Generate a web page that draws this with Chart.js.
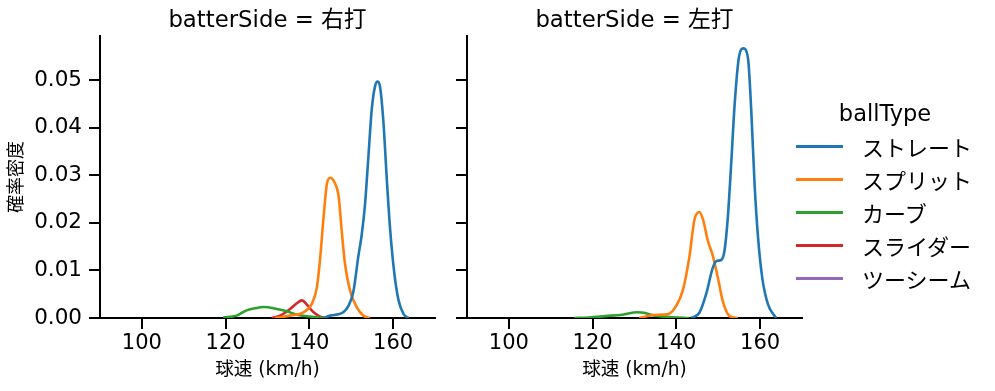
<!DOCTYPE html>
<html lang="ja">
<head>
<meta charset="UTF-8">
<title>球速 KDE</title>
<script src="https://cdn.jsdelivr.net/npm/chart.js@4.4.1/dist/chart.umd.min.js"></script>
<style>
  body { margin: 0; background: #fff; width: 995px; height: 391px; overflow: hidden; position: relative; font-family: "DejaVu Sans", "Noto Sans CJK JP", sans-serif; color: #000; }
  canvas { position: absolute; top: 0; }
  #leftChart { left: 0; }
  #rightChart { left: 455px; }
  .legend-title { position: absolute; left: 785px; top: 99px; width: 200px; line-height: 28px; font-size: 22.5px; text-align: center; }
  .legend-rows { position: absolute; left: 796px; top: 129.5px; }
  .legend-row { height: 33px; display: flex; align-items: center; font-size: 22px; }
  .legend-line { width: 47px; height: 3px; margin-right: 19px; }
</style>
</head>
<body>
<canvas id="leftChart" width="455" height="391"></canvas>
<canvas id="rightChart" width="367" height="391"></canvas>
<div class="legend-title">ballType</div>
<div class="legend-rows" id="legend"></div>

<script>
// axes
const speedTicks = [100, 120, 140, 160];
const densityTicks = [0, 0.01, 0.02, 0.03, 0.04, 0.05];
const speedRange = [90, 170];
const densityMax = 0.0593;

const ballTypes = ['ストレート', 'スプリット', 'カーブ', 'スライダー', 'ツーシーム'];
const ballColors = ['#1f77b4', '#ff7f0e', '#2ca02c', '#d62728', '#9467bd'];

// 右打
const rStraightSpeed = [143.4, 145.0, 146.9, 148.1, 149.3, 150.5, 151.7, 152.5, 153.3, 154.1, 154.9, 155.7, 156.3, 156.9, 157.7, 158.5, 159.3, 160.3, 161.3, 162.5, 163.7];
const rStraightDens  = [0, 0.0005, 0.0008, 0.0012, 0.0025, 0.0055, 0.013, 0.0175, 0.024, 0.034, 0.0439, 0.0488, 0.0497, 0.0485, 0.041, 0.029, 0.0185, 0.0093, 0.0037, 0.0008, 0];
const rSplitSpeed = [131.8, 135.4, 138.6, 140.6, 141.8, 142.6, 143.4, 144.2, 145.0, 145.9, 147.0, 147.7, 148.5, 149.7, 151.3, 152.9, 154.5];
const rSplitDens  = [0, 0.0005, 0.0012, 0.003, 0.0065, 0.0128, 0.0213, 0.0283, 0.0295, 0.0287, 0.0255, 0.0185, 0.0114, 0.0058, 0.0023, 0.0005, 0];
const rCurveSpeed = [119.4, 122.6, 125.0, 127.4, 129.0, 132.2, 134.6, 137.0, 140.2, 143.4];
const rCurveDens  = [0.0001, 0.0005, 0.0016, 0.0021, 0.0023, 0.0019, 0.0014, 0.0007, 0.0003, 0];
const rSliderSpeed = [131.0, 133.0, 135.4, 137.0, 138.2, 139.4, 141.0, 142.6, 144.2];
const rSliderDens  = [0, 0.0005, 0.0019, 0.0031, 0.0037, 0.0028, 0.0012, 0.0003, 0];

// 左打
const lStraightSpeed = [143.5, 145.5, 147.1, 148.7, 149.6, 150.7, 151.5, 152.3, 153.1, 153.9, 154.9, 156.0, 157.1, 157.9, 158.7, 159.5, 160.5, 161.9, 163.8];
const lStraightDens  = [0, 0.0011, 0.005, 0.0106, 0.012, 0.0122, 0.0142, 0.0213, 0.0326, 0.0447, 0.0546, 0.0567, 0.0546, 0.0433, 0.0277, 0.017, 0.0085, 0.0028, 0];
const lSplitSpeed = [131.1, 134.3, 136.7, 138.3, 139.9, 141.5, 143.1, 144.3, 145.5, 146.4, 147.5, 148.7, 149.9, 151.1, 152.7, 154.7];
const lSplitDens  = [0, 0.0006, 0.0007, 0.0009, 0.0025, 0.0057, 0.0128, 0.0206, 0.0223, 0.0206, 0.0163, 0.0131, 0.0085, 0.0035, 0.0004, 0];
const lCurveSpeed = [115.6, 119.2, 123.1, 127.1, 130.7, 132.3, 134.3, 138.3, 143.1];
const lCurveDens  = [0, 0.0001, 0.0004, 0.0007, 0.0012, 0.0011, 0.0006, 0.0002, 0];

const toPoints = (xs, ys) => xs.map((x, i) => ({ x: x, y: ys[i] }));

function series(typeIdx, xs, ys) {
  return {
    label: ballTypes[typeIdx],
    data: toPoints(xs, ys),
    borderColor: ballColors[typeIdx],
    borderWidth: 2.6,
    pointRadius: 0,
    fill: false,
    cubicInterpolationMode: 'monotone'
  };
}

const fontFamily = '"DejaVu Sans", "Noto Sans CJK JP", sans-serif';

function makePanel(id, side, datasets, first) {
  new Chart(document.getElementById(id), {
    type: 'line',
    data: { datasets: datasets },
    options: {
      responsive: false,
      animation: false,
      devicePixelRatio: 1,
      layout: { padding: { left: 0, right: 20, top: 0, bottom: 0 } },
      plugins: {
        legend: { display: false },
        tooltip: { enabled: false },
        title: {
          display: true, text: 'batterSide = ' + side, color: '#000', fullSize: false,
          font: { family: fontFamily, size: 22.8, weight: 'normal' },
          padding: { top: 7.3, bottom: 1.3 }
        }
      },
      scales: {
        x: {
          type: 'linear', min: speedRange[0], max: speedRange[1],
          afterBuildTicks: s => { s.ticks = speedTicks.map(v => ({ value: v })); },
          afterFit: s => { s.height = 73; },
          ticks: { color: '#000', padding: 2, font: { family: fontFamily, size: 21 }, maxRotation: 0 },
          grid: { drawOnChartArea: false, color: '#000', lineWidth: 2, tickLength: 11 },
          border: { color: '#000', width: 2 },
          title: { display: true, text: '球速 (km/h)', color: '#000', font: { family: fontFamily, size: 18.6 }, padding: { bottom: 10 } }
        },
        y: {
          min: 0, max: densityMax,
          afterBuildTicks: s => { s.ticks = densityTicks.map(v => ({ value: v })); },
          afterFit: s => { s.width = first ? 100 : 12; },
          ticks: { display: first, color: '#000', padding: 7, font: { family: fontFamily, size: 21.5 }, callback: v => v.toFixed(2) },
          grid: { drawOnChartArea: false, color: '#000', lineWidth: 2, tickLength: 11 },
          border: { color: '#000', width: 2 },
          title: { display: first, text: '確率密度', color: '#000', font: { family: fontFamily, size: 18 }, padding: { top: 6.7 } }
        }
      }
    }
  });
}

makePanel('leftChart', '右打', [
  series(0, rStraightSpeed, rStraightDens),
  series(1, rSplitSpeed, rSplitDens),
  series(2, rCurveSpeed, rCurveDens),
  series(3, rSliderSpeed, rSliderDens)
], true);

makePanel('rightChart', '左打', [
  series(0, lStraightSpeed, lStraightDens),
  series(1, lSplitSpeed, lSplitDens),
  series(2, lCurveSpeed, lCurveDens)
], false);

// legend
const legendEl = document.getElementById('legend');
ballTypes.forEach((name, i) => {
  legendEl.innerHTML += `<div class="legend-row"><span class="legend-line" style="background:${ballColors[i]}"></span><span>${name}</span></div>`;
});
</script>
</body>
</html>
